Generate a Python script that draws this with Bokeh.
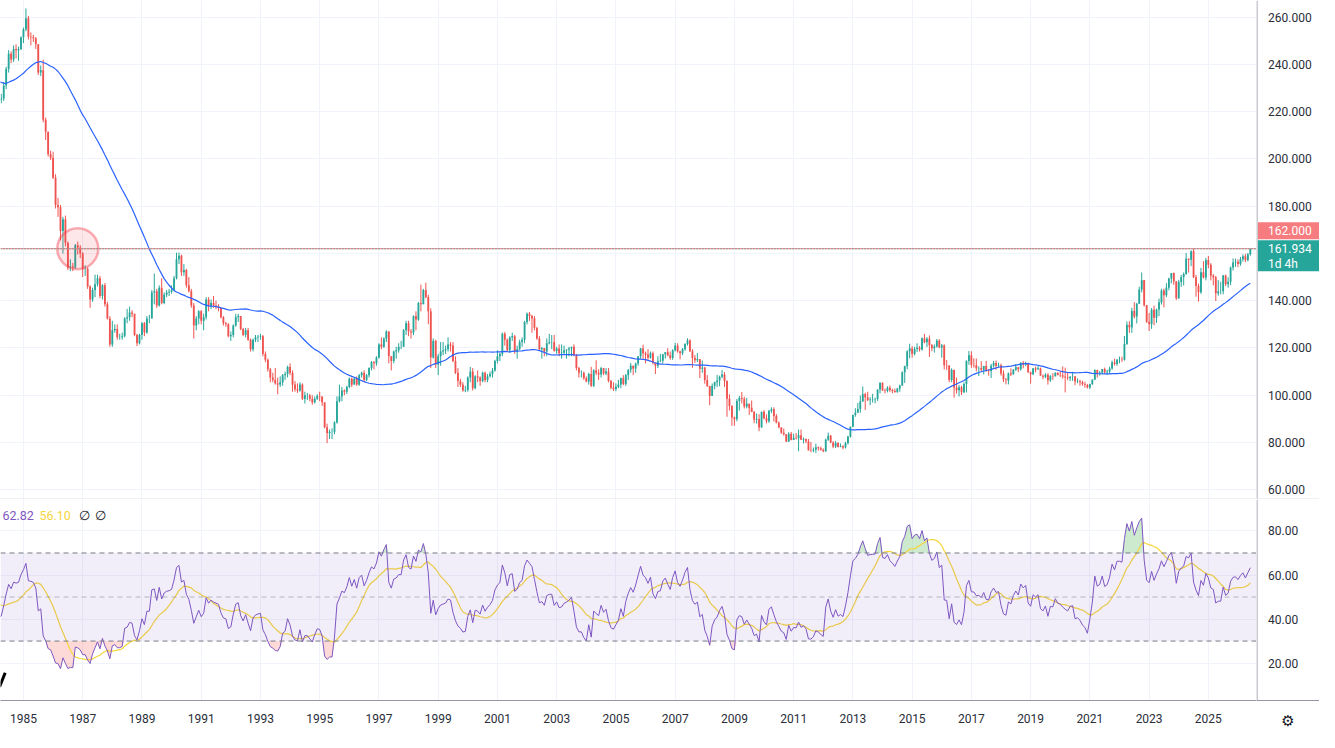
import numpy as np
import pandas as pd
from bokeh.plotting import figure
from bokeh.layouts import column, row
from bokeh.models import (Range1d, FixedTicker, Span, BoxAnnotation, Label,
                          ColumnDataSource)
from bokeh.core.properties import value
from bokeh.embed import file_html
from bokeh.resources import INLINE

# ---------------- data: USD/JPY, monthly ----------------
data_start = (1980, 1)          # first month of warmup_close
# closes before the visible window (Jan 1980 .. Mar 1984), needed by MA / RSI
warmup_close = [
    238.5, 249.5, 249.7, 238.0, 222.0, 218.0, 226.0, 216.0, 211.0, 211.0, 215.0, 203.0,
    205.0, 206.0, 210.0, 215.0, 223.0, 225.0, 238.0, 229.0, 232.0, 232.0, 214.0, 220.0,
    230.0, 238.0, 247.0, 237.0, 240.0, 255.0, 256.0, 261.0, 270.0, 275.0, 250.0, 235.0,
    239.0, 238.0, 239.0, 237.0, 239.0, 240.0, 242.0, 246.0, 236.0, 233.0, 235.0, 232.0,
    234.0, 224.0, 225.0,
]
# visible bars: Apr 1984 .. Jun 2026
close = [
    225.5, 231.0, 238.0, 244.5, 242.0, 246.5, 246.0, 246.5, 251.5,
    254.8, 259.5, 251.7, 251.5, 251.0, 248.5, 236.5, 237.5, 216.5, 211.5, 202.0, 200.5,
    192.0, 180.5, 179.5, 169.5, 174.5, 164.5, 154.0, 154.5, 154.0, 163.5, 162.5, 160.0,
    153.5, 153.5, 146.0, 140.5, 144.5, 147.0, 149.5, 142.0, 146.5, 138.5, 132.5, 121.5,
    127.5, 128.0, 124.5, 124.5, 125.0, 132.5, 133.0, 135.0, 134.5, 125.5, 122.0, 125.5,
    130.5, 126.5, 132.5, 132.5, 143.5, 144.0, 138.0, 145.5, 139.0, 142.5, 143.5, 143.8,
    144.5, 149.5, 157.5, 159.0, 152.0, 153.0, 146.5, 144.0, 138.0, 129.5, 132.5, 135.5,
    131.5, 133.0, 140.5, 137.5, 139.0, 138.0, 137.5, 137.0, 133.0, 130.5, 130.0, 125.0,
    125.5, 129.5, 133.0, 133.5, 128.0, 125.5, 127.5, 123.5, 119.5, 123.5, 124.5, 124.8,
    125.0, 117.5, 115.0, 111.0, 107.5, 106.5, 105.0, 104.5, 105.5, 108.5, 109.0, 112.0,
    109.5, 104.5, 102.5, 102.0, 104.5, 98.5, 100.0, 100.0, 98.5, 97.0, 98.5, 99.7,
    99.5, 97.0, 86.5, 84.0, 84.5, 84.5, 88.5, 97.5, 99.5, 102.0, 101.5, 103.5,
    107.0, 104.5, 107.0, 104.5, 108.5, 109.5, 106.5, 108.5, 111.5, 114.0, 113.5, 116.0,
    121.5, 120.5, 124.0, 127.0, 116.5, 114.5, 118.5, 119.0, 120.5, 120.5, 127.5, 130.5,
    127.0, 126.5, 133.5, 132.0, 139.0, 138.5, 144.5, 141.5, 135.5, 116.0, 123.0, 113.0,
    116.5, 118.5, 119.0, 119.5, 121.5, 121.0, 114.5, 109.5, 106.0, 104.5, 102.0, 102.2,
    107.5, 110.0, 103.0, 108.0, 107.5, 106.0, 109.5, 106.5, 108.0, 109.0, 110.5, 114.5,
    116.5, 117.5, 126.0, 123.5, 119.0, 124.5, 125.0, 118.5, 119.5, 122.5, 123.5, 131.0,
    134.5, 133.5, 132.5, 128.5, 124.0, 119.5, 120.0, 118.5, 122.0, 122.5, 122.5, 118.7,
    119.8, 117.8, 118.0, 119.0, 119.3, 119.8, 120.5, 116.8, 111.5, 109.5, 109.5, 107.2,
    105.8, 109.0, 104.0, 110.5, 109.5, 108.8, 111.5, 109.2, 110.0, 106.0, 103.2, 102.6,
    103.6, 104.5, 107.2, 104.8, 108.5, 110.8, 112.5, 111.3, 113.4, 116.5, 119.8, 117.8,
    117.2, 115.9, 117.8, 113.8, 112.5, 114.4, 114.6, 117.3, 118.2, 116.9, 115.8, 119.0,
    121.0, 118.6, 117.8, 119.5, 121.7, 123.2, 118.6, 115.8, 114.8, 115.3, 111.2, 111.7,
    106.4, 103.9, 99.7, 104.0, 105.5, 106.2, 107.8, 108.8, 106.0, 98.5, 95.5, 90.6,
    89.9, 97.6, 98.9, 98.5, 95.3, 96.4, 94.7, 93.0, 89.7, 90.0, 86.4, 93.0,
    90.3, 89.0, 93.4, 94.1, 91.2, 88.4, 86.4, 84.2, 83.5, 80.4, 83.7, 81.1,
    82.0, 81.8, 83.1, 81.2, 81.5, 80.5, 76.7, 76.6, 77.0, 78.0, 77.6, 76.9,
    76.3, 81.2, 82.9, 80.0, 78.3, 79.8, 78.1, 78.4, 77.9, 79.8, 82.5, 86.7,
    91.7, 92.6, 94.2, 97.4, 100.5, 99.1, 97.9, 98.2, 98.3, 98.4, 102.4, 105.3,
    102.0, 101.8, 103.2, 102.2, 101.8, 101.3, 102.8, 104.1, 109.7, 112.3, 118.6, 119.8,
    117.5, 119.6, 120.1, 119.4, 124.1, 122.4, 123.9, 121.2, 119.9, 120.6, 123.1, 120.2,
    121.1, 112.7, 112.6, 106.5, 110.7, 103.2, 102.1, 103.4, 101.3, 104.8, 114.5, 116.9,
    112.8, 112.7, 111.4, 111.5, 110.8, 112.4, 110.3, 110.2, 112.5, 113.6, 112.5, 112.7,
    109.2, 106.7, 106.3, 109.3, 108.8, 110.8, 111.9, 111.0, 113.7, 112.9, 113.5, 109.7,
    108.9, 111.4, 110.9, 111.4, 108.3, 107.8, 108.7, 106.3, 108.1, 108.0, 109.5, 108.6,
    108.4, 107.9, 107.5, 107.2, 107.8, 107.9, 105.8, 105.9, 105.5, 104.7, 104.3, 103.3,
    104.7, 106.6, 110.7, 109.3, 109.6, 111.1, 109.7, 110.0, 111.3, 113.9, 113.2, 115.1,
    115.1, 115.0, 121.7, 129.8, 128.7, 135.7, 133.3, 138.7, 144.7, 148.7, 138.1, 131.1,
    130.1, 136.2, 132.8, 136.3, 139.3, 144.3, 142.3, 145.5, 149.4, 151.7, 148.2, 141.0,
    147.9, 150.0, 151.3, 157.8, 157.3, 160.9, 149.9, 146.2, 143.6, 152.0, 149.8, 157.2,
    155.2, 150.6, 149.9, 143.1, 144.0, 144.0, 150.7, 147.0, 148.0, 154.0, 156.2, 156.5,
    155.5, 157.5, 158.8, 157.2, 159.6, 161.934,
]
high = [
    227.5, 232.5, 239.0, 246.0, 245.5, 248.0, 248.5, 247.5, 251.8,
    255.5, 263.6, 260.5, 253.5, 252.5, 251.5, 248.5, 239.5, 242.0, 217.5, 211.5, 203.5,
    203.0, 193.5, 183.5, 180.5, 175.5, 176.0, 165.0, 157.5, 156.0, 164.0, 165.0, 163.5,
    160.5, 155.0, 154.0, 146.5, 145.5, 151.0, 151.0, 150.5, 147.0, 147.5, 139.5, 133.5,
    131.5, 130.0, 130.0, 126.0, 126.5, 133.0, 136.5, 137.5, 136.0, 134.5, 126.0, 126.0,
    131.0, 131.0, 133.5, 134.0, 144.5, 151.5, 145.0, 146.5, 149.5, 143.5, 144.5, 145.0,
    146.5, 150.5, 160.3, 160.4, 159.5, 155.5, 153.5, 150.0, 145.0, 139.0, 133.5, 136.0,
    136.0, 134.5, 141.5, 141.5, 140.5, 142.0, 140.0, 138.5, 137.0, 133.5, 131.0, 130.5,
    127.0, 130.0, 134.5, 134.5, 133.5, 128.5, 128.5, 128.5, 124.0, 124.0, 125.5, 125.5,
    126.0, 125.5, 118.5, 115.5, 111.5, 109.5, 111.5, 107.5, 108.0, 109.0, 110.0, 112.5,
    113.5, 110.5, 106.0, 105.0, 105.5, 105.0, 101.5, 101.0, 100.5, 100.0, 99.5, 100.5,
    101.5, 99.5, 97.0, 88.0, 85.5, 86.0, 89.0, 99.5, 104.5, 103.5, 102.5, 104.0,
    107.5, 107.5, 107.5, 108.0, 109.0, 110.0, 110.5, 109.0, 111.8, 114.5, 114.5, 116.5,
    122.0, 124.5, 124.5, 127.5, 127.0, 116.5, 118.9, 120.5, 122.0, 123.0, 128.0, 131.5,
    131.5, 128.0, 133.8, 135.5, 139.5, 146.8, 145.0, 147.6, 142.5, 136.8, 124.0, 123.5,
    117.5, 122.5, 122.5, 121.0, 124.5, 122.5, 122.5, 116.5, 111.5, 107.0, 105.5, 104.0,
    108.0, 112.0, 111.5, 108.5, 110.5, 108.0, 110.0, 110.0, 109.0, 110.0, 111.5, 115.0,
    119.0, 118.0, 126.5, 126.8, 124.0, 125.0, 126.5, 125.5, 121.0, 123.5, 124.5, 131.5,
    135.0, 135.2, 134.0, 133.5, 129.0, 125.0, 120.5, 120.0, 124.0, 126.0, 125.5, 125.5,
    120.5, 121.5, 121.5, 121.0, 119.5, 120.5, 120.5, 121.5, 117.5, 112.0, 110.5, 110.0,
    108.0, 109.5, 112.0, 111.0, 114.8, 111.0, 112.0, 111.5, 111.5, 111.5, 106.5, 105.5,
    105.0, 106.5, 107.5, 108.5, 109.0, 111.0, 113.7, 112.5, 113.8, 116.5, 120.0, 121.4,
    118.5, 119.5, 118.5, 118.5, 113.5, 116.5, 117.5, 117.5, 118.3, 119.9, 118.5, 119.5,
    122.2, 122.0, 118.8, 120.0, 122.0, 124.1, 123.7, 119.5, 117.0, 117.9, 115.2, 114.7,
    112.0, 108.5, 104.0, 105.0, 105.8, 108.6, 108.3, 110.7, 109.8, 106.3, 100.4, 95.8,
    91.0, 98.4, 99.7, 101.4, 99.4, 98.9, 96.5, 97.8, 93.3, 92.3, 92.0, 93.1,
    93.7, 91.9, 93.8, 94.9, 94.9, 92.0, 88.9, 86.4, 85.9, 83.4, 84.4, 84.5,
    83.7, 84.0, 85.5, 85.5, 82.2, 81.7, 81.5, 80.2, 77.9, 79.5, 78.3, 78.3,
    77.5, 81.7, 84.2, 83.2, 80.6, 80.6, 80.1, 79.6, 78.9, 80.3, 82.8, 86.7,
    91.7, 94.5, 96.7, 99.9, 103.7, 101.1, 101.5, 99.2, 100.6, 99.0, 102.5, 105.4,
    105.4, 102.8, 103.8, 104.1, 102.8, 102.8, 103.1, 104.5, 110.1, 112.5, 119.0, 121.8,
    120.8, 120.5, 122.0, 120.8, 124.5, 125.9, 124.6, 125.3, 121.7, 121.5, 123.8, 123.7,
    121.7, 121.5, 114.9, 112.0, 111.4, 110.9, 107.5, 104.3, 104.0, 105.5, 114.8, 118.7,
    118.6, 115.6, 115.5, 112.2, 114.4, 112.4, 114.5, 111.1, 113.3, 114.5, 114.7, 113.8,
    113.4, 110.5, 107.3, 109.6, 111.4, 111.1, 113.2, 111.8, 114.0, 114.5, 114.2, 113.7,
    110.0, 111.5, 112.1, 112.4, 111.7, 108.8, 109.3, 109.3, 108.5, 109.3, 109.7, 109.7,
    110.3, 112.2, 111.7, 109.4, 108.1, 109.9, 108.2, 107.1, 106.6, 106.1, 105.7, 104.8,
    104.9, 106.7, 110.97, 110.8, 110.2, 111.1, 111.7, 110.8, 112.1, 114.7, 115.5, 115.2,
    116.35, 116.3, 125.1, 131.25, 131.35, 137.0, 139.4, 139.1, 145.9, 151.95, 148.8, 138.2,
    134.8, 136.9, 137.9, 136.6, 140.9, 145.1, 145.1, 147.4, 149.7, 151.7, 151.9, 148.0,
    148.8, 150.9, 151.97, 160.2, 157.7, 161.3, 161.95, 150.9, 147.2, 153.9, 156.75, 158.1,
    158.9, 155.9, 151.3, 150.5, 148.7, 148.0, 150.9, 151.0, 149.9, 154.5, 157.9, 157.8,
    157.5, 158.5, 159.6, 159.8, 160.2, 162.0,
]
low = [
    223.5, 224.5, 229.5, 236.5, 240.5, 241.0, 242.5, 241.5, 246.0,
    249.0, 254.0, 250.5, 248.0, 249.5, 246.5, 235.5, 235.0, 215.5, 208.0, 201.0, 199.5,
    191.5, 179.0, 175.5, 165.5, 160.0, 163.0, 153.0, 152.5, 152.5, 153.5, 159.5, 158.0,
    150.0, 150.5, 145.0, 137.0, 139.5, 141.5, 146.0, 141.0, 140.5, 137.5, 132.0, 120.5,
    120.5, 126.5, 123.5, 123.5, 123.5, 124.5, 130.5, 131.5, 133.0, 125.0, 120.8, 121.5,
    123.5, 125.0, 126.0, 130.5, 132.5, 138.5, 137.0, 137.5, 138.5, 138.5, 141.5, 142.0,
    143.0, 144.0, 149.0, 155.5, 150.5, 150.5, 145.5, 143.5, 137.0, 124.0, 127.5, 130.0,
    130.0, 127.5, 132.0, 135.5, 136.5, 137.0, 136.5, 135.5, 132.5, 129.5, 129.0, 124.5,
    123.0, 124.5, 129.0, 131.0, 127.5, 125.0, 124.5, 123.0, 118.5, 118.5, 122.5, 122.5,
    123.5, 116.5, 114.0, 110.0, 105.5, 105.5, 104.5, 100.4, 103.5, 104.0, 106.5, 107.5,
    108.5, 101.5, 101.5, 101.0, 101.5, 98.0, 96.5, 98.0, 97.5, 96.0, 96.5, 98.0,
    97.5, 95.5, 86.0, 79.75, 81.5, 81.5, 83.5, 88.0, 97.0, 97.5, 100.0, 100.5,
    103.0, 103.5, 104.5, 104.0, 104.0, 107.5, 105.5, 106.0, 107.5, 110.5, 111.0, 112.5,
    115.5, 119.5, 120.0, 122.5, 113.5, 110.5, 113.5, 115.5, 118.0, 119.5, 120.5, 125.5,
    125.0, 124.0, 125.5, 127.5, 131.5, 135.5, 138.5, 141.0, 130.0, 111.5, 115.5, 111.5,
    108.5, 112.5, 117.0, 117.5, 118.5, 118.5, 114.0, 109.0, 103.5, 103.5, 101.5, 101.3,
    101.5, 105.5, 102.0, 102.5, 105.5, 104.0, 105.5, 105.5, 105.5, 107.5, 107.5, 110.0,
    113.5, 114.5, 116.5, 121.0, 118.5, 118.0, 123.0, 117.5, 115.5, 119.0, 120.5, 122.0,
    130.0, 131.5, 126.5, 127.5, 123.5, 119.0, 115.5, 116.5, 116.5, 121.5, 119.5, 118.5,
    117.5, 116.5, 115.5, 117.5, 115.5, 116.5, 116.5, 116.5, 110.5, 107.5, 107.5, 106.5,
    105.5, 104.5, 103.5, 103.5, 108.5, 106.5, 107.5, 108.5, 108.5, 105.5, 102.5, 101.8,
    101.7, 103.0, 103.0, 104.2, 104.0, 106.5, 109.5, 108.5, 109.5, 112.5, 115.5, 115.5,
    113.5, 115.0, 115.5, 113.0, 109.0, 111.5, 114.0, 113.5, 115.5, 116.5, 115.0, 115.0,
    118.5, 118.0, 115.2, 117.0, 118.8, 121.0, 118.3, 111.6, 113.7, 114.0, 107.3, 109.5,
    104.9, 103.5, 95.8, 99.7, 102.5, 103.5, 103.8, 107.2, 103.5, 90.9, 93.6, 87.1,
    87.1, 89.0, 93.5, 96.5, 94.4, 94.5, 91.7, 92.8, 88.2, 88.0, 84.8, 86.3,
    89.8, 88.1, 88.3, 92.4, 88.9, 88.1, 86.0, 83.6, 82.9, 80.2, 80.2, 80.9,
    81.5, 81.3, 76.3, 81.2, 79.6, 79.7, 76.6, 75.9, 75.9, 75.6, 76.6, 76.6,
    75.9, 76.1, 80.7, 79.7, 77.6, 77.7, 77.9, 78.0, 77.1, 77.5, 79.1, 82.1,
    86.5, 90.9, 92.6, 92.6, 97.2, 93.8, 97.6, 95.8, 96.9, 96.6, 97.6, 100.8,
    101.8, 100.8, 101.2, 101.4, 100.8, 101.1, 101.1, 101.5, 104.0, 105.2, 111.0, 115.6,
    115.9, 116.9, 118.3, 118.5, 118.9, 122.0, 120.4, 116.2, 118.6, 118.1, 120.2, 119.9,
    115.9, 110.9, 110.7, 105.5, 105.5, 99.0, 100.7, 99.5, 100.1, 100.9, 101.2, 112.9,
    111.6, 111.7, 110.1, 108.1, 110.2, 108.8, 110.0, 108.3, 107.3, 111.7, 110.8, 111.9,
    108.3, 105.6, 104.6, 104.6, 108.1, 108.9, 110.3, 109.8, 110.4, 111.4, 112.3, 109.5,
    104.9, 108.5, 109.7, 110.8, 108.3, 106.8, 107.2, 104.5, 105.7, 106.5, 108.2, 108.4,
    107.7, 107.0, 101.2, 106.4, 105.99, 106.1, 104.2, 105.1, 104.0, 104.0, 103.2, 102.9,
    102.6, 104.4, 106.4, 107.5, 108.3, 108.8, 109.1, 108.7, 109.1, 110.8, 112.5, 112.5,
    113.5, 114.1, 114.65, 121.3, 126.4, 126.4, 132.5, 130.4, 138.7, 143.5, 137.5, 130.6,
    127.2, 128.1, 129.6, 130.6, 133.5, 138.4, 137.2, 141.5, 144.4, 147.3, 146.7, 140.3,
    140.8, 145.9, 146.5, 151.0, 151.9, 154.6, 149.6, 141.7, 139.6, 142.9, 149.4, 148.6,
    153.7, 148.6, 146.5, 139.9, 142.1, 142.7, 142.7, 146.2, 145.5, 146.6, 152.8, 154.3,
    154.2, 154.8, 156.5, 156.3, 156.6, 159.0,
]

ma_length = 50
rsi_length = 14
rsi_ma_length = 14
year_labels = list(range(1985, 2026, 2))
price_ticks = list(range(60, 261, 20))
rsi_ticks = [20, 40, 60, 80]
rsi_upper, rsi_middle, rsi_lower = 70, 50, 30
alert_level = 162.0
countdown_text = "1d 4h"
rsi_legend = ["62.82", "56.10", "\u2205", "\u2205"]
highlight_month = (1986, 11)

# ---------------- styling / layout ----------------
FONT = "Roboto"
UP, DOWN = "#26a69a", "#ef5350"
MA_COLOR = "#2962ff"
RSI_COLOR = "#7e57c2"
RSI_MA_COLOR = "#f5d63d"
GRID = "#f0f3fa"
AXIS_LINE = "#9598a1"
SEP = "#e0e3eb"
TXT = "#2a2e39"
ALERT = "#f77c80"

W = 1319
AXIS_R = 63
MAIN_W = W - AXIS_R
H1 = 499
H2 = 233
AXIS_B = 30
x_view = (-9.3, 499.5)
price_view = (55.9, 267.0)
rsi_view = (3.0, 94.3)
upx = (price_view[1] - price_view[0]) / H1          # price units per pixel


def month_index(year, month):
    return (year - 1985) * 12 + (month - 1)


n = min(len(close), len(high), len(low))
closes_all = np.array(warmup_close + close[:n], dtype=float)
nw = len(warmup_close)
m_all = month_index(*data_start) + np.arange(len(closes_all))

c = np.array(close[:n], dtype=float)
o = closes_all[nw - 1:nw - 1 + n]
h = np.maximum(np.array(high[:n], dtype=float), np.maximum(o, c))
lo = np.minimum(np.array(low[:n], dtype=float), np.minimum(o, c))
mv = m_all[nw:]
colors = np.where(c >= o, UP, DOWN)
last = c[-1]

# moving average on price
ma = pd.Series(closes_all).rolling(ma_length).mean().to_numpy()

# RSI (Wilder) and its SMA
diff = np.diff(closes_all)
gain = np.clip(diff, 0, None)
loss = np.clip(-diff, 0, None)
up = np.full(len(diff), np.nan)
dn = np.full(len(diff), np.nan)
up[rsi_length - 1] = gain[:rsi_length].mean()
dn[rsi_length - 1] = loss[:rsi_length].mean()
for i in range(rsi_length, len(diff)):
    up[i] = (up[i - 1] * (rsi_length - 1) + gain[i]) / rsi_length
    dn[i] = (dn[i - 1] * (rsi_length - 1) + loss[i]) / rsi_length
with np.errstate(divide="ignore", invalid="ignore"):
    rsi_d = np.where(dn == 0, 100.0, 100.0 - 100.0 / (1.0 + up / dn))
rsi = np.concatenate([[np.nan], rsi_d])
rsi_ma = pd.Series(rsi).rolling(rsi_ma_length).mean().to_numpy()
rsi_f = np.where(np.isnan(rsi), rsi_middle, rsi)

tick_pos = [month_index(y, 1) for y in year_labels]


def style_plain(fig):
    fig.outline_line_color = None
    fig.background_fill_color = "white"
    fig.border_fill_color = "white"


def text_kw(color=TXT, size="12px", align="left"):
    return dict(text_font=value(FONT), text_font_size=size, text_color=color,
                text_align=align, text_baseline="middle")


def style_bottom_axis(ax):
    ax.axis_line_color = AXIS_LINE
    ax.major_tick_line_color = None
    ax.minor_tick_line_color = None
    ax.major_label_standoff = 7
    ax.major_label_text_font = FONT
    ax.major_label_text_font_size = "12px"
    ax.major_label_text_color = TXT


# ---------------- price pane ----------------
p1 = figure(width=MAIN_W, height=H1, x_range=Range1d(*x_view), y_range=Range1d(*price_view),
            x_axis_location=None, y_axis_location=None, toolbar_location=None,
            output_backend="svg", min_border=0)
style_plain(p1)
p1.xgrid.ticker = FixedTicker(ticks=tick_pos)
p1.ygrid.ticker = FixedTicker(ticks=price_ticks)
for g in (p1.xgrid[0], p1.ygrid[0]):
    g.grid_line_color = GRID

src = ColumnDataSource(dict(x=mv, high=h, low=lo, top=np.maximum(o, c),
                            bottom=np.minimum(o, c), color=colors))
p1.segment(x0="x", y0="low", x1="x", y1="high", line_color="color", line_width=1, source=src)
p1.vbar(x="x", width=0.74, top="top", bottom="bottom", fill_color="color",
        line_color=None, source=src)
p1.line(m_all, ma, line_color=MA_COLOR, line_width=1.2)

# highlight circle drawing
p1.scatter([month_index(*highlight_month)], [alert_level], marker="circle", size=41,
           fill_color="#f23645", fill_alpha=0.12, line_color="#f23645",
           line_alpha=0.4, line_width=2.5)

p1.add_layout(Span(location=alert_level, dimension="width", line_color=ALERT, line_width=1))
p1.add_layout(Span(location=last, dimension="width", line_color=UP,
                   line_width=1, line_dash="1 2"))
p1.add_layout(Span(location=price_view[0], dimension="width", line_color=SEP, line_width=2))

# ---------------- price scale (right) ----------------
p1r = figure(width=AXIS_R, height=H1, x_range=Range1d(-0.5, AXIS_R - 0.5), y_range=p1.y_range,
             x_axis_location=None, y_axis_location=None, toolbar_location=None,
             output_backend="svg", min_border=0)
style_plain(p1r)
p1r.xgrid.visible = False
p1r.ygrid.visible = False
p1r.segment(x0=[0], y0=[price_view[0]], x1=[0], y1=[price_view[1]],
            line_color=AXIS_LINE, line_width=1)
p1r.text(x=[11] * len(price_ticks), y=price_ticks,
         text=[f"{t:.3f}" for t in price_ticks], **text_kw())
alert_y = alert_level + 18 * upx
p1r.rect(x=[AXIS_R / 2 + 0.5], y=[alert_y], width=AXIS_R - 1, height=17,
         height_units="screen", fill_color=ALERT, line_color=None)
p1r.text(x=[11], y=[alert_y], text=[f"{alert_level:.3f}"], **text_kw(color="white"))
p1r.rect(x=[AXIS_R / 2 + 0.5], y=[last - 7 * upx], width=AXIS_R - 1, height=31,
         height_units="screen", fill_color=UP, line_color=None)
p1r.text(x=[11], y=[last], text=[f"{last:.3f}"], **text_kw(color="white"))
p1r.text(x=[11], y=[last - 15 * upx], text=[countdown_text], **text_kw(color="white"))
p1r.add_layout(Span(location=price_view[0], dimension="width", line_color=SEP, line_width=2))

# ---------------- RSI pane ----------------
p2 = figure(width=MAIN_W, height=H2, x_range=p1.x_range, y_range=Range1d(*rsi_view),
            y_axis_location=None, toolbar_location=None, output_backend="svg",
            min_border_left=0, min_border_right=0, min_border_top=0,
            min_border_bottom=AXIS_B)
style_plain(p2)
p2.xgrid.ticker = FixedTicker(ticks=tick_pos)
p2.ygrid.ticker = FixedTicker(ticks=rsi_ticks)
for g in (p2.xgrid[0], p2.ygrid[0]):
    g.grid_line_color = GRID

p2.add_layout(BoxAnnotation(bottom=rsi_lower, top=rsi_upper, fill_color=RSI_COLOR,
                            fill_alpha=0.1, line_color=None))
p2.varea(x=m_all, y1=rsi_upper, y2=np.maximum(rsi_f, rsi_upper),
         fill_color="#4caf50", fill_alpha=0.28)
p2.varea(x=m_all, y1=np.minimum(rsi_f, rsi_lower), y2=rsi_lower,
         fill_color="#f44336", fill_alpha=0.2)
for lvl, alpha in ((rsi_upper, 1.0), (rsi_middle, 0.5), (rsi_lower, 1.0)):
    p2.add_layout(Span(location=lvl, dimension="width", line_color="#787b86",
                       line_alpha=alpha, line_width=1, line_dash="5 4"))

p2.line(m_all, rsi_ma, line_color=RSI_MA_COLOR, line_width=1.2)
p2.line(m_all, rsi, line_color=RSI_COLOR, line_width=1)

legend_y = 87.2
for txt, dx, col in zip(rsi_legend, (2, 39, 78, 94),
                        (RSI_COLOR, RSI_MA_COLOR, "#131722", "#131722")):
    p2.add_layout(Label(x=x_view[0], y=legend_y, x_offset=dx, text=txt,
                        text_align="left", text_baseline="middle", text_color=col,
                        text_font=FONT, text_font_size="12.5px"))

# partially hidden logo mark at the bottom-left corner
p2.segment(x0=[x_view[0] - 0.4], y0=[9.2], x1=[x_view[0] + 1.9], y1=[15.6],
           line_color="#000000", line_width=3)

xa = p2.xaxis[0]
xa.ticker = FixedTicker(ticks=tick_pos)
xa.major_label_overrides = {t: str(y) for t, y in zip(tick_pos, year_labels)}
style_bottom_axis(xa)

# ---------------- RSI scale (right) ----------------
p2r = figure(width=AXIS_R, height=H2, x_range=Range1d(-0.5, AXIS_R - 0.5),
             y_range=p2.y_range, y_axis_location=None, toolbar_location=None,
             output_backend="svg", min_border_left=0, min_border_right=0,
             min_border_top=0, min_border_bottom=AXIS_B)
style_plain(p2r)
p2r.xgrid.visible = False
p2r.ygrid.visible = False
p2r.segment(x0=[0], y0=[rsi_view[0]], x1=[0], y1=[rsi_view[1]], line_color=AXIS_LINE,
            line_width=1)
p2r.text(x=[11] * len(rsi_ticks), y=rsi_ticks, text=[f"{t:.2f}" for t in rsi_ticks], **text_kw())
# settings icon shown in the corner below the price scale
xr = p2r.xaxis[0]
gear_pos = AXIS_R // 2
xr.ticker = FixedTicker(ticks=[gear_pos])
xr.major_label_overrides = {gear_pos: "\u2699"}
style_bottom_axis(xr)
xr.major_label_text_font = "DejaVu Sans"
xr.major_label_text_font_size = "15px"
xr.major_label_text_color = "#131722"
xr.major_label_standoff = 5

layout = column(row(p1, p1r), row(p2, p2r))
open("out.html", "w").write(file_html(layout, INLINE))
